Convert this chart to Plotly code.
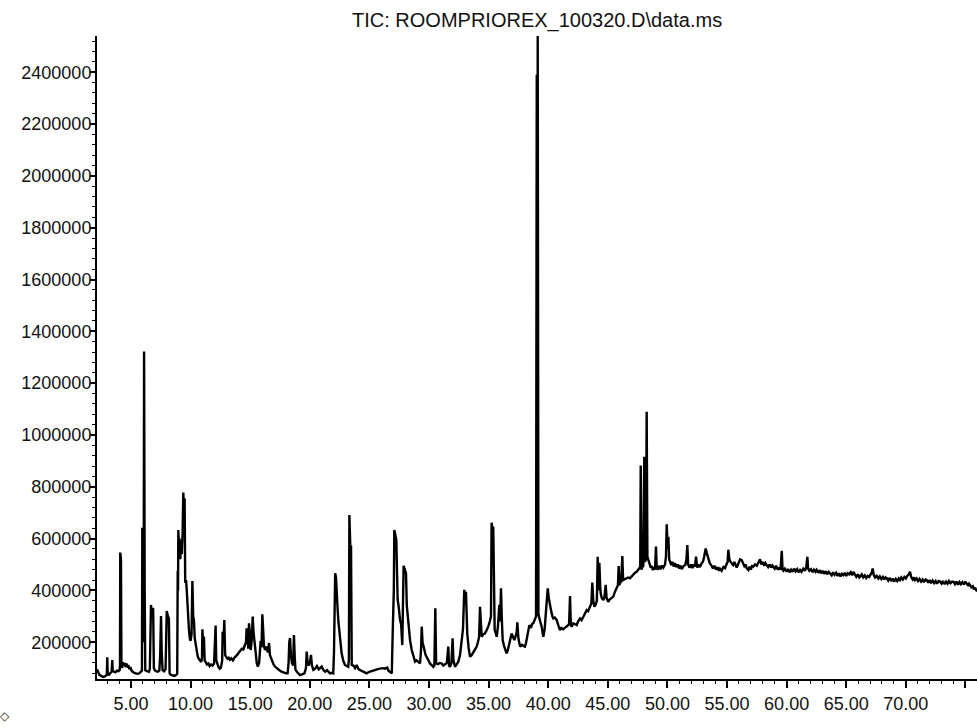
import plotly.graph_objects as go

# Total ion chromatogram, retention time (min) vs abundance (thousands of counts).
# Points are listed segment by segment along the run.

seg_early = [
    (2.15, 96), (2.25, 84), (2.35, 74), (2.5, 70), (2.65, 66), (2.8, 68), (2.92, 72),
    (2.98, 78), (3.01, 142), (3.05, 76), (3.15, 74), (3.28, 82), (3.38, 86), (3.43, 131),
    (3.47, 88), (3.58, 86), (3.7, 84), (3.82, 90), (3.95, 88), (4.05, 92), (4.08, 110),
    (4.1, 546), (4.16, 520), (4.2, 118), (4.26, 100), (4.33, 122), (4.4, 110), (4.48, 120),
    (4.55, 104), (4.63, 118), (4.7, 102), (4.78, 112), (4.86, 96), (4.95, 104), (5.05, 90),
    (5.15, 86), (5.25, 82), (5.4, 80), (5.55, 78), (5.7, 80), (5.82, 84), (5.92, 90),
    (5.95, 642), (6.03, 600), (6.06, 200), (6.1, 1322), (6.15, 400), (6.2, 92),
    (6.35, 88), (6.5, 86), (6.58, 95), (6.62, 211), (6.68, 344), (6.74, 300), (6.8, 330),
    (6.86, 328), (6.92, 100), (7.0, 92), (7.1, 88), (7.25, 86), (7.38, 90), (7.45, 150),
    (7.52, 301), (7.58, 160), (7.65, 92), (7.78, 88), (7.9, 96), (7.95, 205), (8.0, 320),
    (8.1, 300), (8.18, 292), (8.24, 80), (8.35, 74), (8.5, 72), (8.65, 70), (8.8, 74),
    (8.88, 78),
]

seg_cluster = [
    (8.92, 475), (8.95, 400), (8.97, 633), (9.03, 560), (9.08, 600), (9.14, 520),
    (9.2, 590), (9.26, 540), (9.33, 620), (9.39, 778), (9.45, 700), (9.5, 756),
    (9.55, 430), (9.62, 440), (9.68, 400), (9.74, 337), (9.8, 300), (9.86, 250),
    (9.93, 215), (10.0, 205), (10.08, 230), (10.15, 436), (10.22, 300), (10.28, 286),
    (10.35, 215), (10.42, 190), (10.5, 158), (10.6, 145), (10.7, 135), (10.8, 130),
    (10.9, 124), (10.96, 140), (10.99, 250), (11.05, 200), (11.12, 222), (11.18, 130),
    (11.28, 122), (11.38, 114), (11.5, 118), (11.6, 108), (11.72, 114), (11.85, 110),
    (11.97, 118), (12.04, 180), (12.1, 264), (12.15, 130), (12.25, 112), (12.35, 104),
    (12.45, 98), (12.55, 102), (12.65, 130), (12.69, 240), (12.76, 200), (12.83, 286),
    (12.9, 150), (13.0, 140), (13.1, 136), (13.2, 140), (13.3, 132), (13.42, 138),
    (13.55, 130), (13.68, 140), (13.8, 145), (13.92, 152), (14.05, 160), (14.18, 170),
    (14.3, 175), (14.42, 172), (14.55, 190), (14.65, 200), (14.7, 254), (14.78, 230),
    (14.84, 175), (14.9, 273), (14.96, 240), (15.04, 170), (15.12, 200), (15.21, 299),
    (15.28, 240), (15.35, 208), (15.45, 150), (15.55, 120), (15.63, 106), (15.75, 120),
    (15.88, 205), (15.95, 180), (16.02, 308), (16.1, 200), (16.16, 183), (16.25, 170),
    (16.38, 183), (16.48, 160), (16.58, 197), (16.66, 150), (16.8, 131), (16.95, 115),
    (17.08, 106), (17.25, 98), (17.45, 92), (17.64, 86), (17.85, 82), (18.0, 80),
    (18.14, 80), (18.22, 120), (18.28, 200), (18.34, 216), (18.42, 150), (18.5, 120),
    (18.6, 110), (18.67, 228), (18.74, 140), (18.8, 93), (18.95, 84), (19.1, 76),
    (19.18, 73), (19.35, 76), (19.55, 80), (19.68, 100), (19.74, 164), (19.82, 120),
    (19.9, 110), (20.0, 120), (20.1, 151), (20.18, 110), (20.3, 93), (20.45, 98),
    (20.6, 108), (20.75, 95), (20.9, 100), (21.0, 106), (21.15, 92), (21.3, 86),
    (21.45, 92), (21.55, 86), (21.7, 80), (21.85, 82), (21.97, 80), (22.03, 160),
]

seg_mid = [
    (22.08, 440), (22.13, 466), (22.2, 450), (22.26, 344), (22.32, 340), (22.4, 280),
    (22.48, 247), (22.56, 200), (22.67, 157), (22.8, 130), (22.95, 112), (23.1, 108),
    (23.22, 105), (23.28, 130), (23.32, 691), (23.4, 569), (23.46, 569), (23.52, 112),
    (23.65, 110), (23.8, 100), (23.93, 112), (24.1, 95), (24.3, 90), (24.5, 85),
    (24.77, 80), (25.0, 86), (25.2, 90), (25.45, 92), (25.7, 96), (25.9, 99), (26.1, 100),
    (26.3, 98), (26.5, 102), (26.6, 90), (26.75, 85), (26.88, 80), (26.95, 228),
    (27.05, 400), (27.09, 633), (27.2, 610), (27.26, 595), (27.37, 363), (27.45, 340),
    (27.57, 286), (27.66, 270), (27.76, 189), (27.82, 300), (27.87, 495), (27.97, 480),
    (28.07, 466), (28.14, 340), (28.21, 305), (28.3, 250), (28.41, 208), (28.55, 170),
    (28.7, 140), (28.83, 125), (28.95, 130), (29.1, 122), (29.25, 118), (29.33, 170),
    (29.39, 260), (29.46, 200), (29.58, 170), (29.72, 150), (29.9, 135), (30.08, 118),
    (30.22, 112), (30.36, 105), (30.45, 110), (30.53, 331), (30.6, 118), (30.75, 115),
    (30.9, 120), (31.06, 118), (31.2, 110), (31.35, 115), (31.5, 120), (31.62, 183),
    (31.68, 110), (31.76, 105), (31.88, 120), (31.98, 215), (32.05, 130), (32.18, 105),
    (32.3, 112), (32.46, 125), (32.6, 150), (32.74, 196), (32.85, 250), (32.96, 402),
    (33.05, 380), (33.1, 395), (33.15, 250), (33.21, 234), (33.32, 180), (33.44, 144),
    (33.58, 150), (33.72, 163), (33.86, 175), (34.0, 183), (34.1, 200), (34.2, 220),
    (34.28, 337), (34.35, 240), (34.42, 221), (34.55, 230), (34.69, 234), (34.82, 245),
    (34.97, 260), (35.1, 280), (35.2, 300), (35.25, 661), (35.32, 640), (35.39, 646),
    (35.46, 300), (35.51, 247), (35.6, 235), (35.68, 221), (35.78, 260), (35.85, 300),
    (35.9, 344), (35.97, 280), (36.04, 408), (36.1, 300), (36.18, 208), (36.3, 185),
    (36.4, 170), (36.51, 157), (36.62, 170), (36.75, 195), (36.86, 220), (36.93, 234),
    (37.05, 220), (37.16, 208), (37.28, 225), (37.36, 240), (37.41, 277), (37.5, 215),
    (37.64, 183), (37.8, 190), (37.95, 185), (38.05, 183), (38.15, 200), (38.3, 240),
    (38.42, 266), (38.55, 255), (38.65, 270), (38.75, 273), (38.85, 285), (38.93, 290),
    (38.98, 299), (39.04, 2390), (39.08, 300), (39.12, 2545), (39.18, 310), (39.26, 292),
    (39.35, 280), (39.45, 260), (39.52, 240), (39.59, 221), (39.7, 250), (39.8, 300),
    (39.9, 350), (39.96, 408), (40.05, 370), (40.15, 337), (40.25, 320), (40.35, 300),
    (40.43, 292), (40.55, 295), (40.71, 286), (40.85, 265), (40.99, 247), (41.1, 255),
    (41.27, 250), (41.45, 258), (41.6, 262), (41.75, 270), (41.83, 378), (41.9, 265),
    (41.97, 260), (42.11, 273), (42.25, 268), (42.39, 266),
]

seg_rise = [
    (42.5, 280), (42.67, 292), (42.8, 285), (42.95, 300), (43.1, 310), (43.23, 324),
    (43.35, 320), (43.5, 340), (43.62, 350), (43.7, 430), (43.78, 360), (43.87, 337),
    (43.98, 345), (44.08, 360), (44.15, 530), (44.22, 400), (44.29, 507), (44.36, 420),
    (44.4, 389), (44.5, 370), (44.63, 363), (44.72, 375), (44.82, 421), (44.9, 370),
    (45.04, 356), (45.15, 365), (45.3, 372), (45.46, 376), (45.6, 395), (45.74, 408),
    (45.85, 420), (45.91, 494), (45.97, 420), (46.02, 427), (46.12, 435), (46.22, 533),
    (46.28, 440), (46.4, 442), (46.55, 446), (46.7, 450), (46.86, 447), (47.0, 455),
    (47.15, 462), (47.28, 468), (47.42, 472), (47.55, 480), (47.64, 485), (47.72, 490),
    (47.76, 882), (47.82, 480), (47.9, 490), (47.98, 495), (48.06, 916), (48.12, 510),
    (48.2, 520), (48.26, 1090), (48.32, 530), (48.4, 517),
]

seg_plateau = [
    (48.5, 500), (48.6, 488), (48.68, 495), (48.78, 478), (48.88, 490), (48.96, 480),
    (49.04, 569), (49.1, 490), (49.2, 480), (49.3, 495), (49.42, 482), (49.55, 496),
    (49.66, 488), (49.8, 500), (49.88, 530), (49.94, 655), (50.02, 560), (50.08, 607),
    (50.15, 520), (50.22, 511), (50.32, 498), (50.42, 510), (50.52, 492), (50.64, 505),
    (50.75, 490), (50.88, 500), (51.0, 484), (51.1, 496), (51.2, 482), (51.35, 494),
    (51.5, 498), (51.6, 520), (51.67, 575), (51.74, 500), (51.85, 488), (51.98, 500),
    (52.1, 486), (52.2, 500), (52.31, 492), (52.4, 530), (52.5, 488), (52.6, 500),
    (52.72, 490), (52.87, 505), (52.98, 510), (53.08, 530), (53.15, 550), (53.21, 562),
    (53.3, 545), (53.43, 525), (53.55, 505), (53.71, 495), (53.82, 485), (53.95, 495),
    (54.08, 480), (54.2, 490), (54.32, 476), (54.41, 484), (54.55, 476), (54.7, 490),
    (54.83, 486), (54.95, 500), (55.05, 510), (55.11, 557), (55.2, 520), (55.3, 510),
    (55.39, 502), (55.5, 498), (55.62, 510), (55.72, 495), (55.81, 488), (55.92, 500),
    (56.02, 510), (56.1, 520), (56.23, 517), (56.35, 505), (56.45, 494), (56.55, 500),
    (56.65, 486), (56.79, 479), (56.9, 492), (57.0, 480), (57.1, 494), (57.21, 492),
    (57.35, 500), (57.5, 495), (57.62, 505), (57.77, 520), (57.88, 500), (58.0, 510),
    (58.12, 495), (58.22, 505), (58.33, 498), (58.45, 490), (58.58, 500), (58.7, 488),
    (58.8, 496), (58.89, 492), (59.0, 484), (59.12, 495), (59.25, 480), (59.38, 488),
    (59.45, 479), (59.52, 500), (59.59, 553), (59.66, 480), (59.73, 476), (59.85, 484),
    (60.0, 472), (60.12, 482), (60.25, 470), (60.38, 480), (60.5, 472), (60.62, 484),
    (60.75, 474), (60.88, 482), (61.0, 470), (61.13, 479), (61.25, 472), (61.4, 484),
    (61.55, 476), (61.65, 490), (61.74, 530), (61.8, 485), (61.91, 476), (62.05, 482),
    (62.18, 470), (62.3, 480), (62.42, 472), (62.52, 479), (62.65, 468), (62.78, 478),
    (62.9, 466), (63.02, 476), (63.15, 464), (63.28, 474), (63.4, 462), (63.52, 472),
    (63.64, 466), (63.78, 458), (63.9, 470), (64.02, 460), (64.15, 468), (64.28, 456),
    (64.4, 466), (64.52, 454), (64.64, 464), (64.76, 459), (64.88, 468), (65.0, 456),
    (65.12, 466), (65.25, 462), (65.38, 470), (65.5, 458), (65.6, 472), (65.72, 460),
    (65.85, 452), (65.98, 462), (66.1, 450), (66.16, 453), (66.3, 462), (66.42, 450),
    (66.55, 458), (66.68, 448), (66.8, 456), (66.92, 452), (67.05, 460), (67.15, 470),
    (67.22, 485), (67.3, 460), (67.42, 450), (67.56, 456), (67.7, 446), (67.82, 454),
    (67.95, 444), (68.08, 452), (68.2, 442), (68.3, 450), (68.4, 447), (68.52, 438),
    (68.65, 448), (68.78, 436), (68.9, 446), (69.02, 434), (69.15, 444), (69.28, 436),
    (69.4, 446), (69.51, 440), (69.62, 450), (69.75, 442), (69.88, 452), (70.0, 446),
    (70.12, 456), (70.25, 462), (70.35, 472), (70.45, 452), (70.58, 442), (70.7, 450),
    (70.77, 440), (70.9, 446), (71.02, 436), (71.15, 444), (71.28, 434), (71.4, 442),
    (71.52, 432), (71.65, 442), (71.75, 440), (71.88, 430), (72.0, 440), (72.12, 428),
    (72.25, 438), (72.38, 428), (72.5, 436), (72.62, 426), (72.75, 436), (72.87, 434),
    (73.0, 426), (73.12, 436), (73.25, 424), (73.38, 434), (73.5, 426), (73.62, 436),
    (73.75, 428), (73.87, 434), (73.99, 434), (74.12, 424), (74.25, 434), (74.38, 422),
    (74.5, 432), (74.62, 424), (74.75, 432), (74.88, 422), (74.97, 434), (75.1, 424),
    (75.22, 420), (75.3, 426), (75.39, 421), (75.5, 412), (75.62, 416), (75.72, 404),
    (75.82, 410), (75.9, 401), (76.0, 398),
]

x_major = [5, 10, 15, 20, 25, 30, 35, 40, 45, 50, 55, 60, 65, 70, 75]
x_labels = ["5.00", "10.00", "15.00", "20.00", "25.00", "30.00", "35.00", "40.00",
            "45.00", "50.00", "55.00", "60.00", "65.00", "70.00", ""]
y_major = [200000, 400000, 600000, 800000, 1000000, 1200000, 1400000, 1600000,
           1800000, 2000000, 2200000, 2400000]

title_text = "TIC: ROOMPRIOREX_100320.D\\data.ms"

points = sorted(seg_early + seg_cluster + seg_mid + seg_rise + seg_plateau)
rt = [p[0] for p in points]
tic = [p[1] * 1000 for p in points]

fig = go.Figure()
fig.add_trace(go.Scatter(
    x=rt, y=tic, mode="lines",
    line=dict(color="#000000", width=2.4),
    hoverinfo="skip", showlegend=False,
))

axis_font = dict(family="Liberation Sans, Arial, sans-serif", size=18, color="#111111")

fig.update_xaxes(
    range=[2.15, 75.97],
    showline=True, linecolor="#000000", linewidth=2,
    showgrid=False, zeroline=False,
    tickmode="array", tickvals=x_major, ticktext=x_labels,
    ticks="outside", ticklen=7, tickwidth=1.5, tickcolor="#000000",
    tickfont=axis_font,
    minor=dict(tickmode="linear", tick0=0, dtick=1, ticks="outside",
               ticklen=3, tickwidth=1.2, tickcolor="#000000", showgrid=False),
)
fig.update_yaxes(
    range=[58000, 2540000],
    showline=True, linecolor="#000000", linewidth=2,
    showgrid=False, zeroline=False,
    tickmode="array", tickvals=y_major, tickformat="d",
    ticks="outside", ticklen=5, tickwidth=1.5, tickcolor="#000000",
    ticklabelstandoff=-5,
    tickfont=axis_font,
    minor=dict(tickmode="linear", tick0=0, dtick=40000, ticks="outside",
               ticklen=3, tickwidth=1.2, tickcolor="#000000", showgrid=False),
)

fig.add_annotation(
    text=title_text, xref="paper", yref="paper",
    x=0.5, y=1, yshift=16, xanchor="center", yanchor="middle",
    showarrow=False,
    font=dict(family="Liberation Sans, Arial, sans-serif", size=20, color="#111111"),
)
fig.add_annotation(
    text="◇", xref="paper", yref="paper",
    x=-0.1045, y=-0.0575, xanchor="center", yanchor="middle",
    showarrow=False, font=dict(family="DejaVu Sans", size=12, color="#333333"),
)

fig.update_layout(
    width=977, height=727,
    margin=dict(l=97, r=0, t=36, b=48, pad=0),
    paper_bgcolor="#ffffff", plot_bgcolor="#ffffff",
)

fig.write_html("out.html")
